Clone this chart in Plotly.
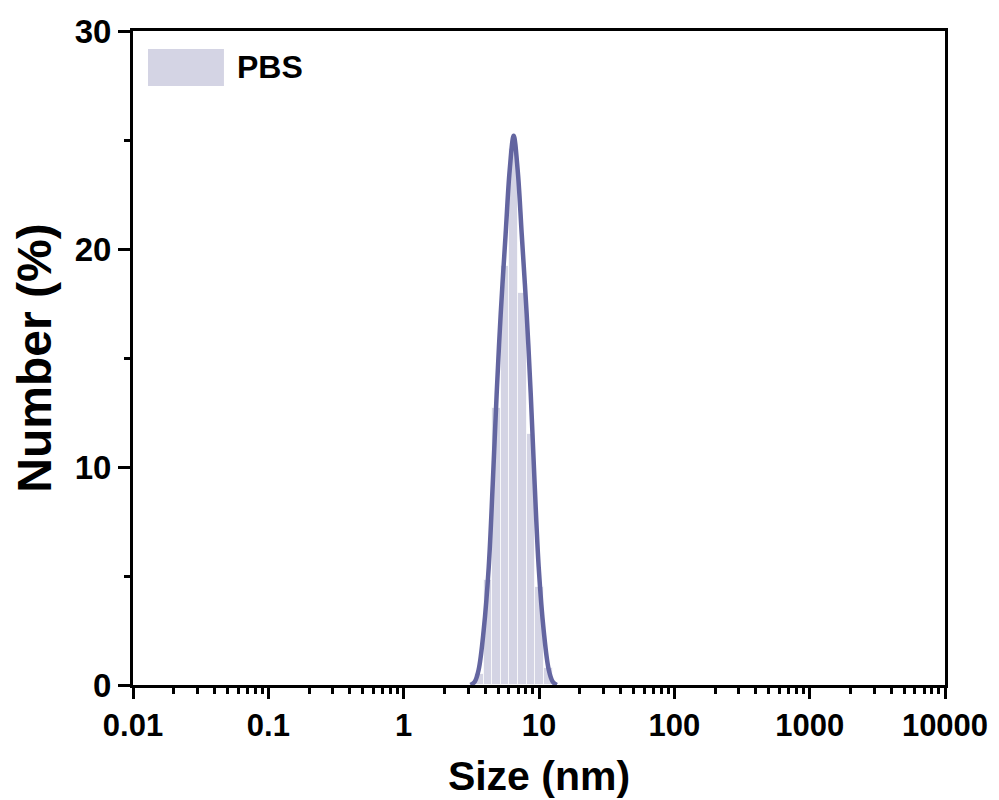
import plotly.graph_objects as go

# ---- data ----
bin_centers = [3.615, 4.187, 4.849, 5.615, 6.503, 7.531, 8.721, 10.1, 11.7]
bin_values = [0.5, 4.8, 12.7, 19.2, 24.6, 18.0, 11.5, 4.5, 0.8]
bin_ratio = 1.1581  # ratio between neighbouring size classes

curve_sizes = [3.12, 3.35, 3.58, 3.90, 4.25, 4.55, 4.87, 5.21, 5.67, 6.07, 6.50,
               6.96, 7.45, 8.11, 8.68, 9.29, 9.95, 10.83, 11.80, 12.63, 13.52]
curve_values = [0.0, 0.15, 0.7, 2.5, 5.4, 9.2, 13.4, 17.0, 20.7, 23.6, 25.2,
                23.6, 20.7, 17.0, 13.4, 9.2, 5.4, 2.5, 0.7, 0.15, 0.0]

major_ticks = [0.01, 0.1, 1, 10, 100, 1000, 10000]
major_labels = ["0.01", "0.1", "1", "10", "100", "1000", "10000"]
minor_ticks = [m * d for d in [0.01, 0.1, 1, 10, 100, 1000] for m in range(2, 10)]

series_name = "PBS"

# ---- styling ----
FONT = "Liberation Sans, Arial, sans-serif"
BAR_COLOR = "#D4D4E4"
LINE_COLOR = "#6365A0"

half = bin_ratio ** 0.5
lefts = [c / half for c in bin_centers]
widths = [c * half - c / half for c in bin_centers]

fig = go.Figure()
fig.add_trace(go.Bar(
    x=lefts, y=bin_values, width=widths, offset=0,
    marker=dict(color=BAR_COLOR, line=dict(color="rgba(255,255,255,0.7)", width=1)),
    name=series_name, showlegend=False,
))
fig.add_trace(go.Scatter(
    x=curve_sizes, y=curve_values, mode="lines",
    line=dict(color=LINE_COLOR, width=4.5, shape="spline", smoothing=1.0),
    showlegend=False,
))

# legend drawn by hand (large swatch)
fig.add_shape(type="rect", xref="paper", yref="paper",
              x0=0.0185, x1=0.112, y0=0.916, y1=0.9725,
              fillcolor=BAR_COLOR, line=dict(width=0))
fig.add_annotation(xref="paper", yref="paper", x=0.1256, y=0.945,
                   text="<b>%s</b>" % series_name, showarrow=False,
                   xanchor="left", yanchor="middle",
                   font=dict(family=FONT, size=32, color="black"))

fig.update_layout(
    width=999, height=800,
    margin=dict(l=125, r=62, t=23, b=123, autoexpand=False),
    paper_bgcolor="white", plot_bgcolor="white",
    font=dict(family=FONT, color="black"),
    bargap=0,
)
fig.update_xaxes(
    type="log", range=[-2, 4], automargin=False,
    tickmode="array", tickvals=major_ticks, ticktext=major_labels,
    ticks="outside", ticklen=11, tickwidth=3, tickcolor="black",
    tickfont=dict(family=FONT, size=31, color="black", weight="bold"),
    showline=True, linewidth=3, linecolor="black", mirror=True,
    showgrid=False, zeroline=False,
    minor=dict(tickmode="array", tickvals=minor_ticks, ticks="outside",
               ticklen=6, tickwidth=2.5, tickcolor="black", showgrid=False),
    title=dict(text="<b>Size (nm)</b>", font=dict(family=FONT, size=41, color="black"),
               standoff=20),
)
fig.update_yaxes(
    range=[0, 30], tickmode="linear", tick0=0, dtick=10, automargin=False,
    ticks="outside", ticklen=12, tickwidth=3, tickcolor="black",
    tickfont=dict(family=FONT, size=33, color="black", weight="bold"),
    showline=True, linewidth=3, linecolor="black", mirror=True,
    showgrid=False, zeroline=False,
    minor=dict(tickmode="linear", tick0=0, dtick=5, ticks="outside",
               ticklen=6, tickwidth=2.5, tickcolor="black", showgrid=False),
    title=dict(text="<b>Number (%)</b>", font=dict(family=FONT, size=48, color="black"),
               standoff=8),
)

fig.write_html("out.html")
